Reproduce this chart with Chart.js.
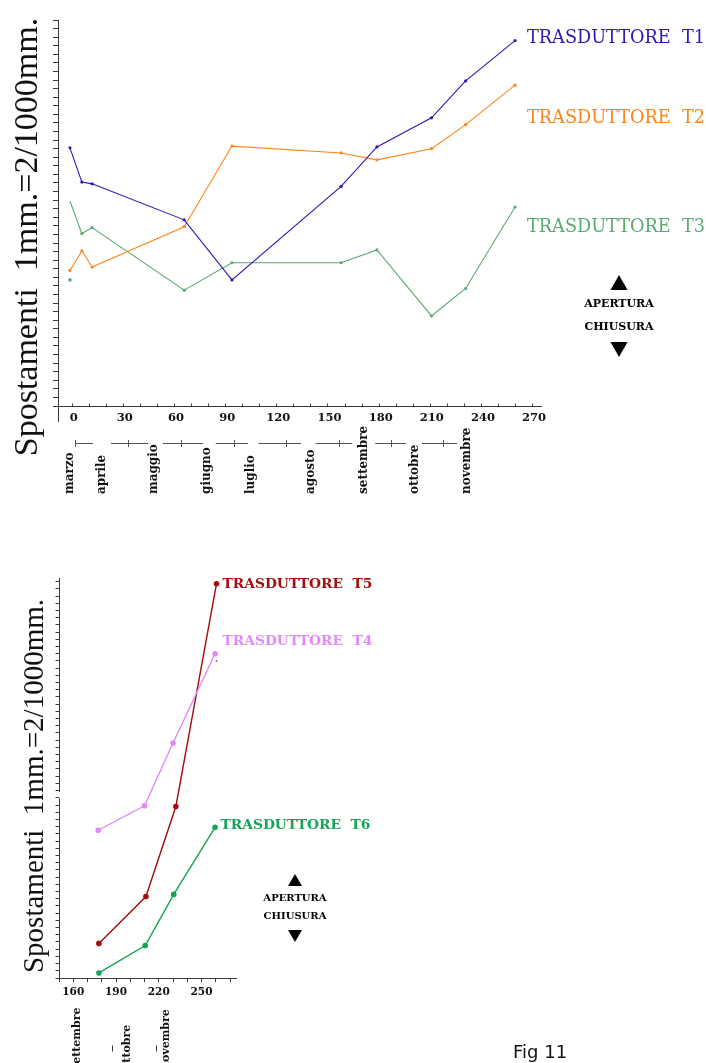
<!DOCTYPE html>
<html>
<head>
<meta charset="utf-8">
<script src="https://cdn.jsdelivr.net/npm/chart.js@4.4.1/dist/chart.umd.min.js"></script>
<style>
  html, body { margin: 0; padding: 0; background: #ffffff; }
  body { width: 706px; height: 1063px; position: relative; overflow: hidden; }
  #graficoSup { position: absolute; left: 0; top: 0; }
  #graficoInf { position: absolute; left: 0; top: 530px; }
</style>
</head>
<body>
<canvas id="graficoSup" width="706" height="530"></canvas>
<canvas id="graficoInf" width="706" height="533"></canvas>
<script>
// ---------------- Grafico superiore: trasduttori T1, T2, T3 ----------------
const giorni = [-1, 6, 12, 66, 94, 158, 179, 211, 231, 260];
const spostT1 = [30.1, 26.1, 25.9, 21.7, 14.7, 25.6, 30.2, 33.6, 37.9, 42.6];
const spostT2 = [15.8, 18.1, 16.2, 20.9, 30.3, 29.5, 28.7, 30.0, 32.8, 37.4];
const spostT3 = [23.9, 20.1, 20.8, 13.5, 16.7, 16.7, 18.2, 10.5, 13.7, 23.2];
const letturaInizialeT3 = { giorno: -1, valore: 14.7 };

const tickGiorniSup = [0, 10, 20, 30, 40, 50, 60, 70, 80, 90, 100, 110, 120, 130, 140,
                       150, 160, 170, 180, 190, 200, 210, 220, 230, 240, 250, 260, 270];
const etichetteGiorniSup = [0, 30, 60, 90, 120, 150, 180, 210, 240, 270];

const mesiSup = ['marzo', 'aprile', 'maggio', 'giugno', 'luglio', 'agosto', 'settembre', 'ottobre', 'novembre'];
const giornoEtichettaMese = [-1, 17.5, 48.5, 79.5, 105, 140, 171.5, 201.5, 232];
const confiniMesi = [2, 33, 64, 95, 125.5, 157, 187, 218];
const trattiMesi = [[2, 12.5], [23, 45], [53.5, 77], [84.5, 103.5], [109.5, 134.5],
                    [143, 164.5], [178, 196], [205.5, 226]];

// ---------------- Grafico inferiore: trasduttori T4, T5, T6 ----------------
const giorniT4 = [177.5, 210, 230, 259.5];
const giorniT5 = [178, 211, 232, 260.5];
const giorniT6 = [178, 210.5, 230.5, 259.5];
const spostT4 = [20.5, 23.9, 32.6, 45.0];
const spostT5 = [4.8, 11.3, 23.8, 54.7];
const spostT6 = [0.7, 4.5, 11.6, 20.9];
const puntoIsolato = { giorno: 260.5, valore: 44.0 };

const tickGiorniInf = [150, 160, 170, 180, 190, 200, 210, 220, 230, 240, 250, 260, 270];
const etichetteGiorniInf = [160, 190, 220, 250];
const mesiInf = ['settembre', 'ottobre', 'novembre'];
const giornoEtichettaMeseInf = [163, 197.5, 225.5];
const separatoriMesiInf = [187, 218];
const interruzioneAsse = [25, 25.8];

const TITOLO_Y = 'Spostamenti  1mm.=2/1000mm.';

// ---------------- Stili ----------------
const COL = {
  t1: '#3414b4', t2: '#ff8418', t3: '#5aaa72',
  t4: '#e288f8', t5: '#a80c0c', t6: '#14a455',
  asse: '#3a3a3a', testo: '#111111'
};
const SERIF = '"DejaVu Serif", serif';
const SERIF_TITOLO = '"Liberation Serif", serif';

function sequenza(da, a, passo) {
  const out = [];
  for (let v = da; v <= a + 1e-9; v += passo) out.push(v);
  return out;
}
function punti(xs, ys) { return xs.map((x, i) => ({ x: x, y: ys[i] })); }

function linea(ctx, x1, y1, x2, y2) {
  ctx.beginPath(); ctx.moveTo(x1, y1); ctx.lineTo(x2, y2); ctx.stroke();
}
function testoVerticale(ctx, testo, x, y, font, colore, allineamento, baseline) {
  ctx.save();
  ctx.translate(x, y);
  ctx.rotate(-Math.PI / 2);
  ctx.font = font;
  ctx.fillStyle = colore;
  ctx.textAlign = allineamento;
  ctx.textBaseline = baseline;
  ctx.fillText(testo, 0, 0);
  ctx.restore();
}
function triangolo(ctx, cx, yPunta, yBase, larghezza) {
  ctx.beginPath();
  ctx.moveTo(cx, yPunta);
  ctx.lineTo(cx + larghezza / 2, yBase);
  ctx.lineTo(cx - larghezza / 2, yBase);
  ctx.closePath();
  ctx.fill();
}
function apertura(ctx, cx, yTriSu, yApertura, yChiusura, yTriGiu, dimTri, font) {
  ctx.save();
  ctx.fillStyle = '#000';
  triangolo(ctx, cx, yTriSu, yTriSu + dimTri, dimTri + 2);
  triangolo(ctx, cx, yTriGiu + dimTri, yTriGiu, dimTri + 2);
  ctx.font = font;
  ctx.textAlign = 'center';
  ctx.textBaseline = 'middle';
  ctx.fillText('APERTURA', cx, yApertura);
  ctx.fillText('CHIUSURA', cx, yChiusura);
  ctx.restore();
}
function etichetta(ctx, testo, x, y, font, colore) {
  ctx.save();
  ctx.font = font; ctx.fillStyle = colore;
  ctx.textAlign = 'left'; ctx.textBaseline = 'middle';
  ctx.fillText(testo, x, y);
  ctx.restore();
}

function serie(nome, dati, colore, raggio, spessore, extra) {
  return Object.assign({
    label: nome, data: dati, borderColor: colore, backgroundColor: colore,
    pointBackgroundColor: colore, pointBorderColor: colore,
    pointRadius: raggio, pointHoverRadius: raggio, borderWidth: spessore,
    pointBorderWidth: 0, showLine: true, tension: 0, fill: false
  }, extra || {});
}

// ---------------- Decorazioni grafico superiore ----------------
const decorazioniSup = {
  id: 'decorazioniSup',
  afterDraw(chart) {
    const ctx = chart.ctx;
    const sx = chart.scales.x;
    const area = chart.chartArea;
    ctx.save();
    ctx.strokeStyle = COL.asse;
    ctx.lineWidth = 1;
    // tacche dell'asse x rivolte verso l'interno
    const yAsse = Math.round(area.bottom) + 0.5;
    tickGiorniSup.forEach(g => {
      const px = Math.round(sx.getPixelForValue(g)) + 0.5;
      linea(ctx, px, yAsse, px, yAsse - 3);
    });
    // prolungamento dell'asse y sotto l'asse x
    const xAsse = Math.round(area.left) + 0.5;
    linea(ctx, xAsse, area.bottom, xAsse, area.bottom + 16);

    // striscia dei mesi
    const yStriscia = 443.5;
    ctx.strokeStyle = '#555';
    trattiMesi.forEach(t => {
      linea(ctx, sx.getPixelForValue(t[0]), yStriscia, sx.getPixelForValue(t[1]), yStriscia);
    });
    confiniMesi.forEach(g => {
      const px = Math.round(sx.getPixelForValue(g)) + 0.5;
      linea(ctx, px, yStriscia - 3.5, px, yStriscia + 3.5);
    });
    mesiSup.forEach((m, i) => {
      testoVerticale(ctx, m, sx.getPixelForValue(giornoEtichettaMese[i]), 494,
        'bold 12px ' + SERIF, COL.testo, 'left', 'middle');
    });

    // titolo asse y
    testoVerticale(ctx, TITOLO_Y, 37, 237, '34px ' + SERIF_TITOLO, COL.testo, 'center', 'alphabetic');

    // nomi delle serie
    etichetta(ctx, 'TRASDUTTORE  T1', 527, 38, '17.7px ' + SERIF, COL.t1);
    etichetta(ctx, 'TRASDUTTORE  T2', 527, 118, '17.7px ' + SERIF, COL.t2);
    etichetta(ctx, 'TRASDUTTORE  T3', 527, 227.5, '17.7px ' + SERIF, COL.t3);

    apertura(ctx, 619, 275, 304, 327, 342, 15, 'bold 11px ' + SERIF);
    ctx.restore();
  }
};

// ---------------- Decorazioni grafico inferiore ----------------
const decorazioniInf = {
  id: 'decorazioniInf',
  afterDraw(chart) {
    const ctx = chart.ctx;
    const sx = chart.scales.x, sy = chart.scales.y;
    const area = chart.chartArea;
    ctx.save();
    ctx.strokeStyle = COL.asse;
    ctx.lineWidth = 1;
    // asse y interrotto in due tratti
    const xAsse = Math.round(area.left) + 0.5;
    linea(ctx, xAsse, area.top, xAsse, sy.getPixelForValue(interruzioneAsse[1]));
    linea(ctx, xAsse, sy.getPixelForValue(interruzioneAsse[0]), xAsse, area.bottom);

    // mesi sotto l'asse x
    mesiInf.forEach((m, i) => {
      testoVerticale(ctx, m, sx.getPixelForValue(giornoEtichettaMeseInf[i]), 540,
        'bold 11px ' + SERIF, COL.testo, 'left', 'middle');
    });
    ctx.strokeStyle = '#333';
    separatoriMesiInf.forEach(g => {
      const px = Math.round(sx.getPixelForValue(g)) + 0.5;
      linea(ctx, px, 515.5, px, 521.5);
    });

    // titolo asse y
    testoVerticale(ctx, TITOLO_Y, 43, 256, '29px ' + SERIF_TITOLO, COL.testo, 'center', 'alphabetic');

    // nomi delle serie
    etichetta(ctx, 'TRASDUTTORE  T5', 222.5, 54, 'bold 13.8px ' + SERIF, COL.t5);
    etichetta(ctx, 'TRASDUTTORE  T4', 222.5, 111, 'bold 13.8px ' + SERIF, COL.t4);
    etichetta(ctx, 'TRASDUTTORE  T6', 220.5, 295, 'bold 13.8px ' + SERIF, COL.t6);

    apertura(ctx, 295, 344, 368, 386, 400, 12, 'bold 10px ' + SERIF);

    // didascalia della figura
    ctx.font = '18px "DejaVu Sans", sans-serif';
    ctx.fillStyle = '#111';
    ctx.textAlign = 'left';
    ctx.textBaseline = 'alphabetic';
    ctx.fillText('Fig 11', 513, 528);
    ctx.restore();
  }
};

Chart.defaults.font.family = SERIF;

// ---------------- Grafico superiore ----------------
new Chart(document.getElementById('graficoSup'), {
  type: 'scatter',
  data: {
    datasets: [
      serie('TRASDUTTORE T1', punti(giorni, spostT1), COL.t1, 1.6, 1.1),
      serie('TRASDUTTORE T2', punti(giorni, spostT2), COL.t2, 1.6, 1.1),
      serie('TRASDUTTORE T3', punti(giorni, spostT3), COL.t3, giorni.map((g, i) => i === 0 ? 0 : 1.6), 1.1),
      serie('T3 lettura iniziale', [{ x: letturaInizialeT3.giorno, y: letturaInizialeT3.valore }], COL.t3, 1.8, 1, { showLine: false })
    ]
  },
  options: {
    responsive: false,
    animation: false,
    devicePixelRatio: 1,
    events: [],
    layout: { padding: { top: 20, right: 164.5, bottom: 94, left: 0 } },
    plugins: { legend: { display: false }, tooltip: { enabled: false } },
    scales: {
      x: {
        type: 'linear', min: -8, max: 275.5,
        afterBuildTicks: s => { s.ticks = tickGiorniSup.map(v => ({ value: v })); },
        afterFit: s => { s.height = 30; },
        grid: { display: false, drawTicks: false, tickLength: 0 },
        border: { display: true, color: COL.asse, width: 1 },
        ticks: {
          autoSkip: false, maxRotation: 0, padding: 5.5, labelOffset: 2,
          color: COL.testo, font: { family: SERIF, weight: 'bold', size: 11.5 },
          callback: v => etichetteGiorniSup.includes(v) ? String(v) : ''
        }
      },
      y: {
        type: 'linear', min: 0, max: 45,
        afterBuildTicks: s => { s.ticks = sequenza(0, 45, 1).map(v => ({ value: v })); },
        afterFit: s => { s.width = 58; },
        grid: { drawOnChartArea: false, drawTicks: true, tickLength: 5, color: COL.asse },
        border: { display: true, color: COL.asse, width: 1 },
        ticks: { autoSkip: false, callback: () => '', padding: 0 }
      }
    }
  },
  plugins: [decorazioniSup]
});

// ---------------- Grafico inferiore ----------------
new Chart(document.getElementById('graficoInf'), {
  type: 'scatter',
  data: {
    datasets: [
      serie('TRASDUTTORE T4', punti(giorniT4, spostT4), COL.t4, 2.8, 1.4),
      serie('TRASDUTTORE T5', punti(giorniT5, spostT5), COL.t5, 2.8, 1.4),
      serie('TRASDUTTORE T6', punti(giorniT6, spostT6), COL.t6, 2.8, 1.4),
      serie('punto', [{ x: puntoIsolato.giorno, y: puntoIsolato.valore }], '#c03030', 0.9, 1, { showLine: false })
    ]
  },
  options: {
    responsive: false,
    animation: false,
    devicePixelRatio: 1,
    events: [],
    layout: { padding: { top: 48, right: 470, bottom: 55, left: 0 } },
    plugins: { legend: { display: false }, tooltip: { enabled: false } },
    scales: {
      x: {
        type: 'linear', min: 150, max: 274.2,
        afterBuildTicks: s => { s.ticks = tickGiorniInf.map(v => ({ value: v })); },
        afterFit: s => { s.height = 30; },
        grid: { drawOnChartArea: false, drawTicks: true, tickLength: 4, color: COL.asse },
        border: { display: true, color: COL.asse, width: 1 },
        ticks: {
          autoSkip: false, maxRotation: 0, padding: 4,
          color: COL.testo, font: { family: SERIF, weight: 'bold', size: 10.5 },
          callback: v => etichetteGiorniInf.includes(v) ? String(v) : ''
        }
      },
      y: {
        type: 'linear', min: 0, max: 55.5,
        afterBuildTicks: s => { s.ticks = sequenza(0, 55, 1).map(v => ({ value: v })); },
        afterFit: s => { s.width = 59; },
        grid: { drawOnChartArea: false, drawTicks: true, tickLength: 3.5, color: COL.asse },
        border: { display: false },
        ticks: { autoSkip: false, callback: () => '', padding: 0 }
      }
    }
  },
  plugins: [decorazioniInf]
});
</script>
</body>
</html>
